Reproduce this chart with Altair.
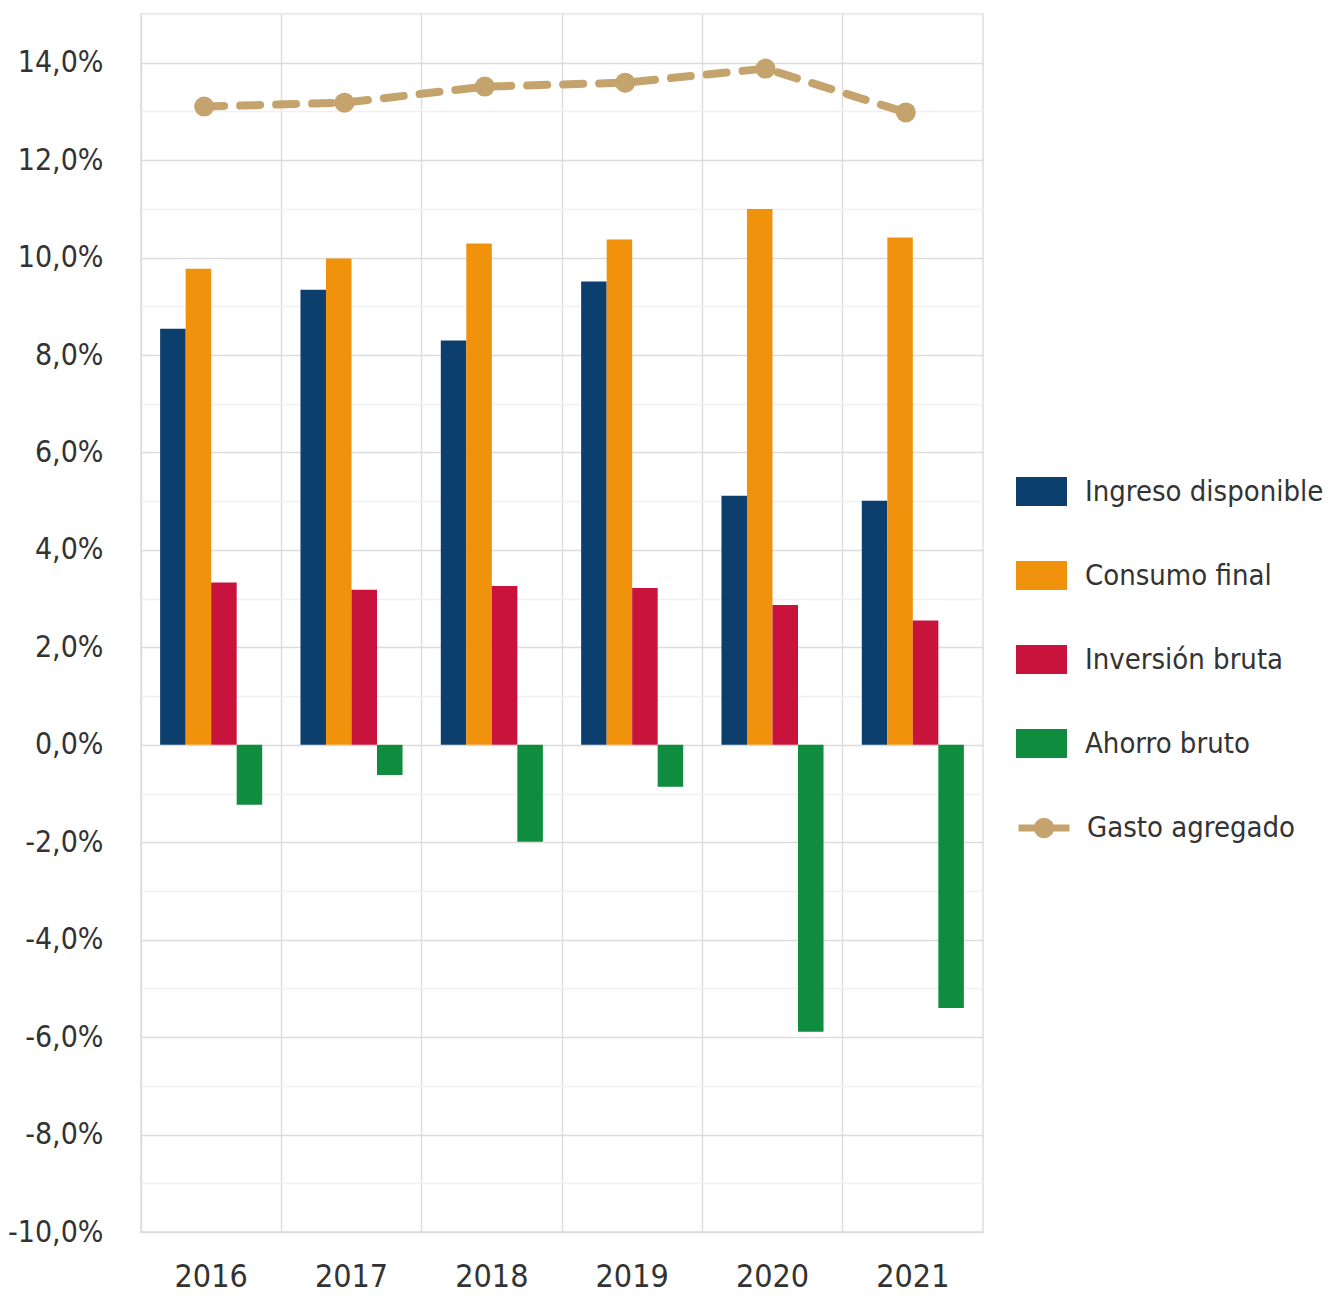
import altair as alt
import pandas as pd

years = ["2016", "2017", "2018", "2019", "2020", "2021"]
series = ["Ingreso disponible", "Consumo final", "Inversión bruta", "Ahorro bruto"]
ingreso = [8.54, 9.34, 8.30, 9.51, 5.11, 5.01]
consumo = [9.77, 9.98, 10.29, 10.37, 11.00, 10.41]
inversion = [3.33, 3.18, 3.26, 3.22, 2.87, 2.55]
ahorro = [-1.23, -0.62, -1.99, -0.86, -5.89, -5.40]
gasto = [13.10, 13.18, 13.51, 13.59, 13.88, 12.98]
bar_colors = ["#0d3f6e", "#f0920c", "#c8143c", "#0f8c3e"]
line_color = "#c4a46c"
FONT = "DejaVu Sans Condensed, Liberation Sans, sans-serif"

rows = []
for s, vals in zip(series, [ingreso, consumo, inversion, ahorro]):
    for y, v in zip(years, vals):
        rows.append({"year": y, "serie": s, "value": v})
bars_df = pd.DataFrame(rows)
line_df = pd.DataFrame({"year": years, "serie2": ["Gasto agregado"] * 6, "value": gasto})

W, H = 842, 1218
y_scale = alt.Scale(domain=[-10, 15], nice=False, zero=False)
x_axis = alt.Axis(
    title=None, ticks=False, domain=False, grid=True, bandPosition=0,
    gridColor="#dddddd", gridWidth=1.5, labelAngle=0,
    labelFont=FONT, labelFontSize=32, labelColor="#333333", labelPadding=29,
)
y_axis = alt.Axis(
    title=None, ticks=False, domain=False, grid=True,
    values=list(range(-10, 16)),
    labelExpr="datum.value % 2 == 0 ? (datum.value < 0 ? '-' : '') + abs(datum.value) + ',0%' : ''",
    gridColor=alt.ExprRef("datum.value % 2 == 0 ? '#dcdcdc' : '#f0f0f0'"),
    gridWidth=1.5,
    labelFont=FONT, labelFontSize=30, labelColor="#333333", labelPadding=38,
)

bars = alt.Chart(bars_df).mark_bar(stroke=None).encode(
    x=alt.X("year:N", sort=years, axis=x_axis,
            scale=alt.Scale(paddingInner=0, paddingOuter=0)),
    xOffset=alt.XOffset("serie:N", sort=series,
                        scale=alt.Scale(paddingInner=0, paddingOuter=0.75)),
    y=alt.Y("value:Q", scale=y_scale, axis=y_axis),
    color=alt.Color(
        "serie:N", sort=series,
        scale=alt.Scale(domain=series, range=bar_colors),
        legend=alt.Legend(
            title=None, orient="none", legendX=875, legendY=452,
            symbolType="M-1,-0.57H1V0.57H-1Z", symbolSize=2601,
            symbolStrokeWidth=0, rowPadding=43, padding=0,
            labelFont=FONT, labelFontSize=29, labelColor="#333333",
            labelOffset=18, labelLimit=400,
        ),
    ),
)

line = alt.Chart(line_df).mark_line(
    strokeWidth=8, strokeDash=[20, 16], strokeCap="round",
    point=alt.OverlayMarkDef(filled=True, size=400, opacity=1),
).encode(
    x=alt.X("year:N", sort=years, bandPosition=0.45),
    y=alt.Y("value:Q", scale=y_scale),
    color=alt.Color(
        "serie2:N",
        scale=alt.Scale(domain=["Gasto agregado"], range=[line_color]),
        legend=alt.Legend(
            title=None, orient="none", legendX=874, legendY=785,
            symbolType="M-1,0H1M-0.26,0A0.26,0.26 0 1,1 0.26,0A0.26,0.26 0 1,1 -0.26,0Z",
            symbolSize=2601, symbolStrokeWidth=7, symbolDash=[1, 0],
            symbolFillColor=line_color, symbolStrokeColor=line_color, padding=0,
            labelFont=FONT, labelFontSize=29, labelColor="#333333",
            labelOffset=14, labelLimit=400,
        ),
    ),
)

chart = alt.layer(bars, line).resolve_scale(color="independent").properties(
    width=W, height=H,
    autosize=alt.AutoSizeParams(type="none"),
    padding={"left": 133, "top": 6, "right": 345, "bottom": 64},
).configure_view(stroke="#dddddd", strokeWidth=1.5)

chart.save("out.html", embed_options={"renderer": "svg", "actions": False})
